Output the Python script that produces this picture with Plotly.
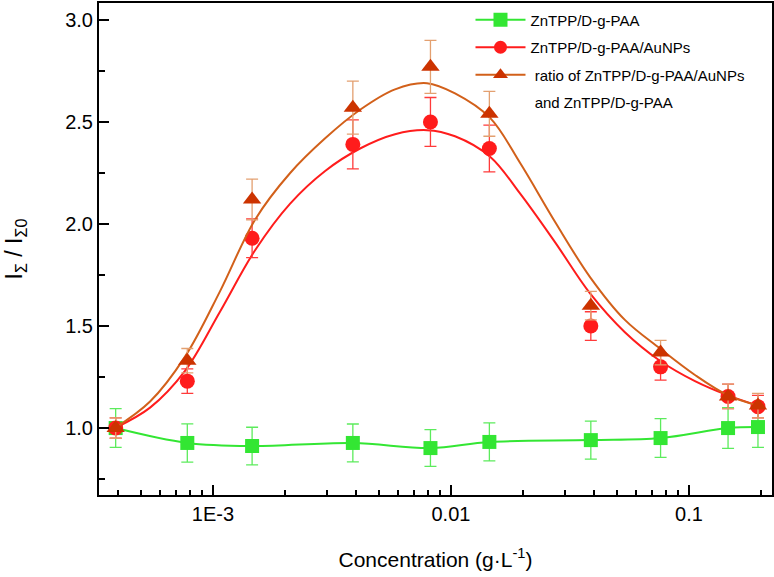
import plotly.graph_objects as go

# measured points (concentration in g/L)
conc = [3.9e-4, 7.8e-4, 1.46e-3, 3.87e-3, 8.2e-3, 1.45e-2, 3.87e-2, 7.6e-2, 0.146, 0.195]

green = [1.00, 0.927, 0.912, 0.927, 0.902, 0.932, 0.941, 0.951, 1.00, 1.005]
green_err = [0.095, 0.094, 0.092, 0.093, 0.09, 0.093, 0.093, 0.095, 0.1, 0.1]

red = [1.00, 1.23, 1.93, 2.39, 2.50, 2.37, 1.50, 1.30, 1.155, 1.105]
red_err = [0.05, 0.06, 0.095, 0.12, 0.12, 0.115, 0.07, 0.065, 0.06, 0.055]

ratio = [1.00, 1.33, 2.12, 2.57, 2.77, 2.54, 1.60, 1.37, 1.155, 1.11]
ratio_err = [0.05, 0.06, 0.10, 0.13, 0.13, 0.11, 0.07, 0.06, 0.06, 0.06]

# fitted curves
fit_conc = [3.87e-4, 5.44e-4, 7.63e-4, 1.07e-3, 1.50e-3, 2.11e-3, 2.96e-3, 4.15e-3, 5.82e-3, 7.93e-3,
            1.04e-2, 1.46e-2, 1.95e-2, 2.74e-2, 3.84e-2, 5.38e-2, 7.55e-2, 0.106, 0.146, 0.195]
red_fit = [1.00, 1.10, 1.28, 1.57, 1.87, 2.10, 2.26, 2.37, 2.44, 2.46,
           2.43, 2.33, 2.15, 1.91, 1.66, 1.47, 1.33, 1.23, 1.16, 1.11]
ratio_fit = [1.00, 1.13, 1.35, 1.67, 2.02, 2.25, 2.42, 2.56, 2.66, 2.69,
             2.64, 2.52, 2.30, 2.01, 1.74, 1.53, 1.39, 1.26, 1.16, 1.11]

x_ticks = [1e-3, 1e-2, 1e-1]
x_ticktext = ["1E-3", "0.01", "0.1"]
y_ticks = [1.0, 1.5, 2.0, 2.5, 3.0]

GREEN = "#33E633"
RED = "#FF1C1C"
BROWN = "#CC3300"
ORANGE = "#D2601A"

minor_x = [m * 10 ** e for e in (-4, -3, -2, -1) for m in range(2, 10)]

fig = go.Figure()

# ZnTPP/D-g-PAA : spline through points
fig.add_trace(go.Scatter(
    x=conc, y=green, mode="lines+markers", name="ZnTPP/D-g-PAA", legendgroup="a",
    line=dict(color=GREEN, width=2, shape="spline"),
    marker=dict(symbol="square", size=14, color=GREEN),
    error_y=dict(type="data", array=green_err, color="#5CEB5C", thickness=1.3, width=6),
))

# AuNPs
fig.add_trace(go.Scatter(
    x=fit_conc, y=red_fit, mode="lines", showlegend=False,
    line=dict(color=RED, width=2, shape="spline"),
))
fig.add_trace(go.Scatter(
    x=conc, y=red, mode="markers", showlegend=False,
    marker=dict(symbol="circle", size=15, color=RED),
    error_y=dict(type="data", array=red_err, color="#FF3A3A", thickness=1.3, width=6),
))
fig.add_trace(go.Scatter(
    x=[None], y=[None], mode="lines+markers", name="ZnTPP/D-g-PAA/AuNPs", legendgroup="b",
    line=dict(color=RED, width=2), marker=dict(symbol="circle", size=13, color=RED),
))

# ratio
fig.add_trace(go.Scatter(
    x=fit_conc, y=ratio_fit, mode="lines", showlegend=False,
    line=dict(color=ORANGE, width=2, shape="spline"),
))
fig.add_trace(go.Scatter(
    x=conc, y=ratio, mode="markers", showlegend=False,
    marker=dict(symbol="triangle-up", size=16, color=BROWN),
    error_y=dict(type="data", array=ratio_err, color="#E3A070", thickness=1.3, width=6),
))
fig.add_trace(go.Scatter(
    x=[None], y=[None], mode="lines+markers", name=" ratio of ZnTPP/D-g-PAA/AuNPs", legendgroup="c",
    line=dict(color=ORANGE, width=2), marker=dict(symbol="triangle-up", size=13, color=BROWN),
))
fig.add_trace(go.Scatter(
    x=[None], y=[None], mode="lines", name=" and ZnTPP/D-g-PAA", legendgroup="d",
    line=dict(color="rgba(0,0,0,0)", width=0),
))

axis_common = dict(
    showline=True, linecolor="black", linewidth=2, mirror=True,
    ticks="inside", ticklen=10, tickwidth=1.5, tickcolor="black",
    showgrid=False, zeroline=False, automargin=False,
    tickfont=dict(size=20, color="black"),
)

fig.update_xaxes(
    type="log", range=[-3.479, -0.651],
    tickvals=x_ticks, ticktext=x_ticktext,
    minor=dict(tickvals=minor_x, ticks="inside", ticklen=5, tickwidth=1.5, tickcolor="black"),
    title=dict(text="Concentration (g·L<sup>-1</sup>)", font=dict(size=21, color="black"), standoff=28),
    **axis_common,
)
fig.update_yaxes(
    range=[0.672, 3.083], tickvals=y_ticks, tickformat=".1f",
    minor=dict(dtick=0.25, tick0=0, ticks="inside", ticklen=6, tickwidth=1.5, tickcolor="black"),
    title=dict(text="I<sub>Σ</sub> / I<sub>Σ0</sub>", font=dict(size=23, color="black"), standoff=36),
    **axis_common,
)

fig.update_layout(
    width=774, height=577,
    margin=dict(l=99, r=2, t=3, b=82),
    paper_bgcolor="white", plot_bgcolor="white",
    font=dict(family="Liberation Sans, Arial, sans-serif", color="black"),
    legend=dict(
        x=0.552, y=0.999, xanchor="left", yanchor="top",
        bgcolor="rgba(0,0,0,0)", font=dict(size=15, color="black"),
        itemwidth=50, traceorder="grouped", tracegroupgap=5,
    ),
)

# page body has an 8px default margin; drop it so the figure fills the window
fig.write_html("out.html", config={"displayModeBar": False},
               post_script="document.body.style.margin='0';")
